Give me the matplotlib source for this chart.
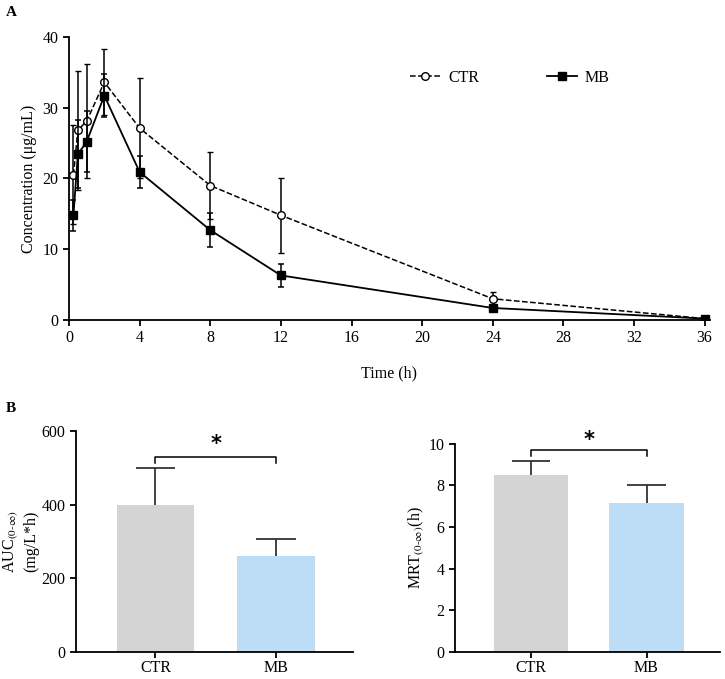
import matplotlib
matplotlib.use("Agg")
import matplotlib.pyplot as plt
from matplotlib.lines import Line2D

plt.rcParams.update({
    'font.family': ['Liberation Serif', 'DejaVu Serif'],
    'font.size': 11.5,
    'axes.linewidth': 1.3,
    'xtick.major.width': 1.3, 'ytick.major.width': 1.3,
    'xtick.major.size': 4, 'ytick.major.size': 4,
    'mathtext.fontset': 'stix',
})

# concentration-time data
time_h = [0.25, 0.5, 1, 2, 4, 8, 12, 24, 36]
ctr_mean = [20.5, 26.8, 28.1, 33.6, 27.1, 19.0, 14.8, 3.0, 0.2]
ctr_sd = [7.0, 8.4, 8.0, 4.7, 7.1, 4.7, 5.3, 0.9, 0.1]
mb_mean = [14.8, 23.4, 25.2, 31.7, 20.9, 12.7, 6.3, 1.7, 0.2]
mb_sd = [2.2, 4.8, 4.3, 3.0, 2.3, 2.4, 1.6, 0.3, 0.1]

# PK parameters
groups = ["CTR", "MB"]
auc_mean = [398, 262]
auc_sd = [102, 44]
mrt_mean = [8.5, 7.15]
mrt_sd = [0.65, 0.87]
bar_colors = ["#d4d4d4", "#bddcf6"]

fig = plt.figure(figsize=(7.25, 6.79), dpi=100)

# ---- panel A ----
ax = fig.add_axes([0.0952, 0.5287, 0.884, 0.417])
ctr_style = dict(color="black", ls="--", lw=1.1, marker="o", mfc="white",
                 mec="black", ms=5.5, mew=1.0)
mb_style = dict(color="black", ls="-", lw=1.3, marker="s", mfc="black",
                mec="black", ms=6)
ax.errorbar(time_h, ctr_mean, yerr=ctr_sd, capsize=2.5, elinewidth=1.1,
            capthick=1.1, zorder=3, **ctr_style)
ax.errorbar(time_h, mb_mean, yerr=mb_sd, capsize=2.5, elinewidth=1.1,
            capthick=1.1, zorder=4, **mb_style)
ax.set_xlim(0, 36.3)
ax.set_ylim(0, 40)
ax.set_xticks(range(0, 37, 4))
ax.set_yticks(range(0, 41, 10))
ax.spines[['top', 'right']].set_visible(False)
ax.set_xlabel("Time (h)", labelpad=14)
ax.set_ylabel("Concentration (\u03bcg/mL)")
handles = [Line2D([], [], **ctr_style), Line2D([], [], **mb_style)]
ax.legend(handles, groups, loc="center left", bbox_to_anchor=(0.51, 0.855),
          ncol=2, frameon=False, handlelength=1.9, columnspacing=4.2,
          handletextpad=0.5)

fig.text(0.008, 0.982, "A", fontweight="bold", fontsize=11, va="center")
fig.text(0.008, 0.398, "B", fontweight="bold", fontsize=11, va="center")


def bar_panel(rect, means, sds, ylim, yticks, bracket, star_y, ylabel):
    bx = fig.add_axes(rect)
    xs = list(range(len(groups)))
    bx.bar(xs, means, width=0.645, color=bar_colors, zorder=2)
    tops = [m + s for m, s in zip(means, sds)]
    bx.vlines(xs, means, tops, color="#333333", lw=1.3, zorder=1)
    bx.hlines(tops, [x - 0.165 for x in xs], [x + 0.165 for x in xs],
              color="#333333", lw=1.3, zorder=1)
    bx.set_xlim(-0.66, 1.64)
    bx.set_ylim(*ylim)
    bx.set_yticks(yticks)
    bx.set_xticks(xs)
    bx.set_xticklabels(groups)
    bx.tick_params(axis="x", pad=1.5)
    bx.spines[['top', 'right']].set_visible(False)
    tick = (ylim[1] - ylim[0]) * 0.03
    bx.plot([0, 0, 1, 1], [bracket - tick, bracket, bracket, bracket - tick],
            color="black", lw=1.1, clip_on=False)
    bx.text(0.5, star_y, "*", ha="center", va="center", fontsize=15,
            fontweight="bold", family="DejaVu Sans")
    bx.set_ylabel(ylabel, labelpad=2)
    return bx


bar_panel([0.1048, 0.0395, 0.382, 0.326], auc_mean, auc_sd, (0, 600),
          [0, 200, 400, 600], 530, 565,
          "AUC$_{(0\\text{-}\\infty)}$\n(mg/L*h)")
bar_panel([0.6276, 0.0395, 0.366, 0.307], mrt_mean, mrt_sd, (0, 10),
          [0, 2, 4, 6, 8, 10], 9.72, 10.2,
          "MRT$_{(0\\text{-}\\infty)}$(h)")

fig.savefig("out.png", dpi=100)
